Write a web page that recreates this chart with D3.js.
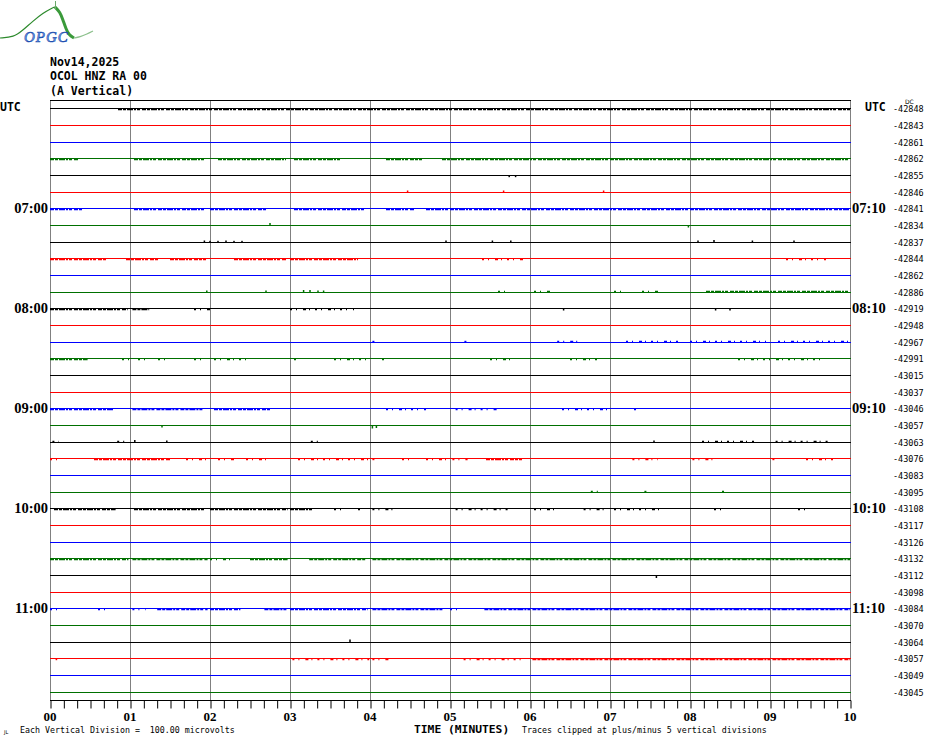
<!DOCTYPE html>
<html><head><meta charset="utf-8">
<script src="https://cdn.jsdelivr.net/npm/d3@7"></script>
<style>body{margin:0;background:#fff}svg{display:block}</style>
</head><body><svg id="c" width="930" height="744"></svg>
<script>
// ---------- data ----------
const headerLines = ["Nov14,2025", "OCOL HNZ RA 00", "(A Vertical)"];
const minuteTicks = ["00","01","02","03","04","05","06","07","08","09","10"];
const leftHourLabels = ["07:00","08:00","09:00","10:00","11:00"];
const rightHourLabels = ["07:10","08:10","09:10","10:10","11:10"];
const traceStartTimes = ["06:00","06:10","06:20","06:30","06:40","06:50","07:00","07:10","07:20","07:30","07:40","07:50",
  "08:00","08:10","08:20","08:30","08:40","08:50","09:00","09:10","09:20","09:30","09:40","09:50",
  "10:00","10:10","10:20","10:30","10:40","10:50","11:00","11:10","11:20","11:30","11:40","11:50"];
const dcOffsets = [-42848,-42843,-42861,-42862,-42855,-42846,-42841,-42834,-42837,-42844,-42862,-42886,
  -42919,-42948,-42967,-42991,-43015,-43037,-43046,-43057,-43063,-43076,-43083,-43095,
  -43108,-43117,-43126,-43132,-43112,-43098,-43084,-43070,-43064,-43057,-43049,-43045];
// dense noise intervals [startMin, endMin] per trace index
const denseNoise = {
  0: [[0.85,10]],
  3: [[0,0.35],[1.05,1.95],[2.1,2.95],[3.05,3.65],[4.2,4.65],[4.9,10]],
  6: [[0,0.4],[1.05,1.95],[2.0,2.7],[3.05,3.95],[4.2,4.55],[4.7,10]],
  9: [[0,0.7],[0.95,1.35],[1.5,1.95],[2.3,2.95],[3.0,3.85]],
  11: [[8.2,10]],
  12: [[0,0.97],[1.03,1.24]],
  15: [[0,0.47]],
  18: [[0,0.8],[1.03,1.93],[2.05,2.75]],
  21: [[0.55,1.5],[5.45,5.9]],
  24: [[0.05,0.82],[1.05,1.95],[2.0,2.97],[3.0,3.3]],
  27: [[0,0.98],[1.03,1.97],[2.5,2.97],[3.24,3.95],[4.03,10]],
  30: [[1.34,1.97],[2.0,2.38],[2.68,2.97],[3.0,3.97],[4.03,4.93],[5.43,10]],
  33: [[6.03,10]]
};
// sparse noise intervals
const sparseNoise = {
  9: [[5.4,5.95],[9.2,9.7]],
  11: [[5.6,5.7],[6.05,6.25],[7.05,7.2],[7.4,7.6]],
  12: [[1.8,2.0],[3.0,3.8]],
  14: [[4.03,4.1],[5.18,5.22],[6.34,6.6],[7.2,7.9],[8.0,8.95],[9.1,10]],
  15: [[0.9,1.0],[1.1,1.25],[1.35,1.5],[1.8,1.95],[2.05,2.5],[3.05,3.1],[3.55,3.95],[4.15,4.2],[5.5,5.75],[6.5,6.85],[8.6,9.7]],
  18: [[4.2,4.7],[5.07,5.6],[6.4,6.97],[7.3,7.33]],
  20: [[0.03,0.11],[0.84,0.97],[3.26,3.36],[8.15,8.85],[9.07,9.72]],
  21: [[0,0.15],[1.7,1.95],[2.1,2.3],[2.45,2.75],[3.1,3.99],[4.03,4.1],[4.4,4.5],[4.7,4.95],[5.03,5.22],[7.28,7.6],[8.03,8.3],[9.03,9.1],[9.45,9.8]],
  23: [[6.76,6.92],[7.43,7.5],[8.4,8.43]],
  24: [[3.55,3.68],[3.85,3.9],[4.03,4.3],[5.07,5.76],[6.05,6.35],[6.67,6.97],[7.05,7.65],[8.3,8.4],[9.35,9.5]],
  27: [[2.0,2.3]],
  30: [[0,0.11],[0.6,0.72],[1.03,1.2],[5.0,5.15]],
  33: [[0.07,0.09],[3.03,3.99],[4.03,4.25],[5.17,5.95]]
};
// side of noise ticks: +1 above, -1 below (microvolt sign)
const noiseAmplitude = {0:-10,3:-10,6:-10,9:-10,11:10,12:-10,14:10,15:-10,18:-10,20:10,21:-10,23:10,24:-10,27:-10,30:-10,33:-10};
// isolated spikes [traceIndex, minute, microvolts]
const spikes = [
  [4,5.74,-10],[4,5.82,-10],
  [5,4.47,12],[5,5.67,12],[5,6.92,12],
  [7,2.75,15],[7,7.98,-12],
  [8,1.93,12],[8,2.0,10],[8,2.1,10],[8,2.2,12],[8,2.3,10],[8,2.4,10],[8,4.95,12],[8,5.53,12],[8,5.76,12],[8,8.1,12],[8,8.3,15],[8,8.78,12],[8,9.3,12],
  [11,1.96,12],[11,2.7,12],[11,3.17,15],[11,3.25,15],[11,3.35,12],[11,3.42,12],
  [12,6.42,-12],[12,8.32,-12],[12,8.5,-12],
  [19,1.4,-12],[19,4.03,-18],[19,4.08,-15],
  [20,1.06,15],[20,1.46,12],[20,7.55,12],
  [28,7.58,-15],
  [32,3.75,18]
];
const footLeft = "Each Vertical Division =  100.00 microvolts";
const footRight = "Traces clipped at plus/minus 5 vertical divisions";
const axisTitle = "TIME (MINUTES)";

// ---------- drawing ----------
const svg = d3.select("#c");
const colors = ["#000000","#ff0000","#0000ff","#007000"];
const x = d3.scaleLinear().domain([0,10]).range([50,850]);
const y = d3.scaleLinear().domain([0,360]).range([108.33,708.33]); // minutes after 06:00
const uv = d3.scaleLinear().domain([0,100]).range([0,-16.667]);   // microvolts -> px offset
const toMin = s => { const [h,m] = s.split(":").map(Number); return (h-6)*60+m; };
const traceY = i => Math.round(y(toMin(traceStartTimes[i]))) + 0.5;

// logo
const logo = svg.append("g");
const curve = d3.line().curve(d3.curveBasis);
logo.append("path").attr("d", curve([[0,38],[14,37],[22,31],[33,21],[43,13],[52,8],[55,7]]))
  .attr("fill","none").attr("stroke","#2d8a2d").attr("stroke-width",1.2);
logo.append("path").attr("d", curve([[55,7],[60,12],[63,20],[66,29],[69,35],[74,38]]))
  .attr("fill","none").attr("stroke","#3a9a3a").attr("stroke-width",3);
logo.append("path").attr("d", curve([[74,38],[80,37],[87,34],[93,31]]))
  .attr("fill","none").attr("stroke","#8cc08c").attr("stroke-width",1.2);
logo.append("line").attr("x1",55.5).attr("x2",55.5).attr("y1",1).attr("y2",9).attr("stroke","#6aa86a").attr("stroke-width",1);
logo.append("text").attr("x",24).attr("y",42).text("OPGC")
  .attr("font-family","Liberation Serif").attr("font-style","italic").attr("font-size",15)
  .attr("letter-spacing",1).attr("fill","#6fa0e8").attr("stroke","#1d4fb0").attr("stroke-width",0.6);

// header
svg.append("g").selectAll("text").data(headerLines).join("text")
  .attr("x",50).attr("y",(d,i)=>66+i*14.3).text(d=>d)
  .attr("font-family","DejaVu Sans Mono").attr("font-weight","bold").attr("font-size",11.5).attr("fill","#000");

// grid
const grid = svg.append("g");
grid.selectAll("line").data(d3.range(0,11)).join("line")
  .attr("x1",d=>Math.round(x(d))+0.5).attr("x2",d=>Math.round(x(d))+0.5)
  .attr("y1",100).attr("y2",700).attr("stroke","#808080").attr("stroke-width",1);
svg.append("line").attr("x1",50).attr("x2",851).attr("y1",100.5).attr("y2",100.5).attr("stroke","#000");

// traces
const tr = svg.append("g");
traceStartTimes.forEach((t,i) => {
  const yy = traceY(i), col = colors[i%4];
  tr.append("line").attr("x1",x(0)).attr("x2",x(10)+1).attr("y1",yy).attr("y2",yy).attr("stroke",col).attr("stroke-width",1);
  const amp = noiseAmplitude[i] || 0;
  const off = uv(amp) > 0 ? 1 : -1;
  (denseNoise[i]||[]).forEach(([a,b]) => {
    tr.append("line").attr("x1",x(a)).attr("x2",x(b)).attr("y1",yy+off).attr("y2",yy+off)
      .attr("stroke",col).attr("stroke-width",1.4).attr("stroke-dasharray","4 1 3 1 6 1 2 1 3 2");
  });
  (sparseNoise[i]||[]).forEach(([a,b]) => {
    tr.append("line").attr("x1",x(a)).attr("x2",x(b)).attr("y1",yy+off).attr("y2",yy+off)
      .attr("stroke",col).attr("stroke-width",1.4).attr("stroke-dasharray","2 4 1 6 3 3 1 5");
  });
});
tr.selectAll("rect.spike").data(spikes).join("rect").attr("class","spike")
  .attr("x",d=>x(d[1])-0.75).attr("width",1.5)
  .attr("y",d=>{ const yy=traceY(d[0]); const o=uv(d[2]); return o<0 ? yy+o : yy; })
  .attr("height",d=>Math.abs(uv(d[2])))
  .attr("fill",d=>colors[d[0]%4]);

// left / right hour labels
const lab = svg.append("g").attr("font-family","Liberation Serif").attr("font-weight","bold").attr("font-size",14.5).attr("fill","#000");
lab.selectAll("text.l").data(leftHourLabels).join("text").attr("class","l")
  .attr("x",48).attr("text-anchor","end").attr("y",d=>y(toMin(d))+5).text(d=>d);
lab.selectAll("text.r").data(rightHourLabels).join("text").attr("class","r")
  .attr("x",852).attr("y",d=>y(toMin(d)-10)+5).text(d=>d);
svg.append("text").attr("x",0).attr("y",111).text("UTC")
  .attr("font-family","DejaVu Sans Mono").attr("font-weight","bold").attr("font-size",11.5);
svg.append("text").attr("x",865).attr("y",111).text("UTC")
  .attr("font-family","DejaVu Sans Mono").attr("font-weight","bold").attr("font-size",11.5);

// DC offsets
svg.append("text").attr("x",905).attr("y",104).text("DC").attr("font-family","DejaVu Sans").attr("font-size",6);
svg.append("g").selectAll("text").data(dcOffsets).join("text")
  .attr("x",893).attr("y",(d,i)=>traceY(i)+3.5).text(d=>String(d))
  .attr("font-family","DejaVu Sans Mono").attr("font-size",8.5).attr("fill","#000");

// bottom axis
const axis = d3.axisBottom(x).tickValues(d3.range(0,61).map(d=>d/6)).tickSize(8).tickFormat("");
const ag = svg.append("g").attr("transform","translate(0.5,700.5)").call(axis);
ag.select(".domain").attr("d","M49.5,0H850.5").attr("stroke","#000");
ag.selectAll(".tick line").attr("stroke","#000");
svg.append("g").selectAll("text").data(minuteTicks).join("text")
  .attr("x",(d,i)=>x(i)).attr("y",721).attr("text-anchor","middle").text(d=>d)
  .attr("font-family","Liberation Serif").attr("font-weight","bold").attr("font-size",13);
svg.append("text").attr("x",414).attr("y",733).text(axisTitle)
  .attr("font-family","DejaVu Sans Mono").attr("font-weight","bold").attr("font-size",11.3);
svg.append("text").attr("x",20).attr("y",733).text(footLeft).attr("xml:space","preserve")
  .attr("font-family","DejaVu Sans Mono").attr("font-size",8.3);
svg.append("text").attr("x",522).attr("y",733).text(footRight)
  .attr("font-family","DejaVu Sans Mono").attr("font-size",8.3);
svg.append("text").attr("x",4).attr("y",734).text("JL").attr("font-family","DejaVu Sans").attr("font-size",5);
</script></body></html>
